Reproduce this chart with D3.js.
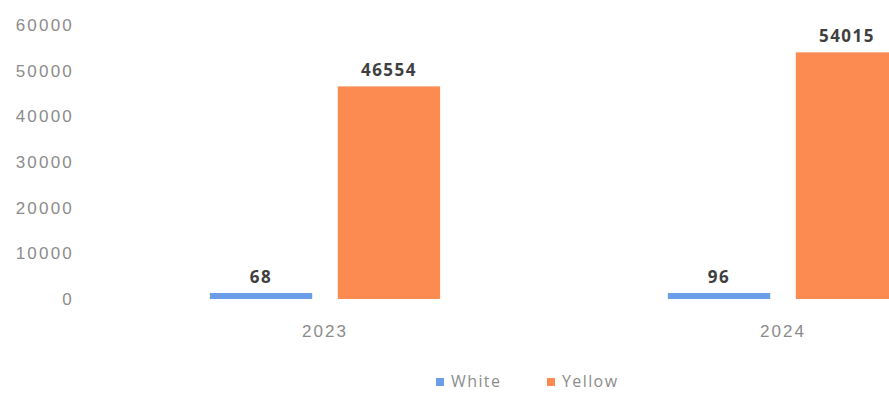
<!DOCTYPE html>
<html>
<head>
<meta charset="utf-8">
<script src="https://cdn.jsdelivr.net/npm/d3@7"></script>
<style>
  body { margin: 0; background: #fff; }
  svg { display: block; font-family: "Open Sans", sans-serif; }
</style>
</head>
<body>
<svg id="svg1" width="889" height="393"></svg>
<script>
var years = ['2023', '2024'];
var seriesNames = ['White', 'Yellow'];
var whiteValues = [68, 96];
var yellowValues = [46554, 54015];
var yTicks = [0, 10000, 20000, 30000, 40000, 50000, 60000];

var colors = { White: '#6c9de9', Yellow: '#fc8b52' };

var svg = d3.select('#svg1');

var x = d3.scaleBand()
    .domain(years)
    .range([96, 1012])
    .paddingInner(0)
    .paddingOuter(0);

var x1 = d3.scaleBand()
    .domain(seriesNames)
    .range([0, x.bandwidth()])
    .paddingInner(0.2)
    .paddingOuter(0.89);

var y = d3.scaleLinear()
    .domain([0, 60000])
    .range([299, 25]);

// y axis labels, no line
var yAxis = svg.append('g')
    .attr('transform', 'translate(80,0)')
    .call(d3.axisLeft(y).tickValues(yTicks).tickSize(0).tickPadding(6).tickFormat(d3.format('d')));
yAxis.select('.domain').remove();
yAxis.selectAll('text')
    .attr('fill', '#8c8c8c')
    .style('font-size', '17px')
    .style('letter-spacing', '2.2px');

// x axis labels
var xAxis = svg.append('g')
    .attr('transform', 'translate(0,' + 299 + ')')
    .call(d3.axisBottom(x).tickSize(0).tickPadding(26));
xAxis.select('.domain').remove();
xAxis.selectAll('text')
    .attr('fill', '#8c8c8c')
    .style('font-size', '17px')
    .style('letter-spacing', '2px');

var rows = years.map(function(yr, i) {
  return [
    { year: yr, key: 'White', value: whiteValues[i] },
    { year: yr, key: 'Yellow', value: yellowValues[i] }
  ];
});

var groups = svg.append('g')
    .selectAll('g')
    .data(rows)
    .enter()
    .append('g')
    .attr('transform', function(d) { return 'translate(' + x(d[0].year) + ',0)'; });

// small values still get a thin visible bar like the original
function barTop(d) { return Math.min(y(d.value), y(0) - 6); }

groups.selectAll('rect')
    .data(function(d) { return d; })
    .enter()
    .append('rect')
    .attr('x', function(d) { return x1(d.key); })
    .attr('y', barTop)
    .attr('width', x1.bandwidth())
    .attr('height', function(d) { return y(0) - barTop(d); })
    .attr('fill', function(d) { return colors[d.key]; });

groups.selectAll('text.val')
    .data(function(d) { return d; })
    .enter()
    .append('text')
    .attr('class', 'val')
    .attr('x', function(d) { return x1(d.key) + x1.bandwidth() / 2; })
    .attr('y', function(d) { return barTop(d) - 10; })
    .attr('text-anchor', 'middle')
    .attr('fill', '#3f3f3f')
    .style('font-size', '17px')
    .style('font-weight', 'bold')
    .style('letter-spacing', '1.5px')
    .text(function(d) { return d.value; });

// legend
var legend = svg.append('g')
    .attr('transform', 'translate(0,383)');

var legendX = [436, 547];
seriesNames.forEach(function(name, i) {
  legend.append('rect')
      .attr('x', legendX[i])
      .attr('y', -5)
      .attr('width', 8)
      .attr('height', 8)
      .attr('fill', colors[name]);
  legend.append('text')
      .attr('x', legendX[i] + 15)
      .attr('y', 4)
      .attr('fill', '#8c8c8c')
      .style('font-size', '16px')
      .style('letter-spacing', '1.4px')
      .text(name);
});
</script>
</body>
</html>
